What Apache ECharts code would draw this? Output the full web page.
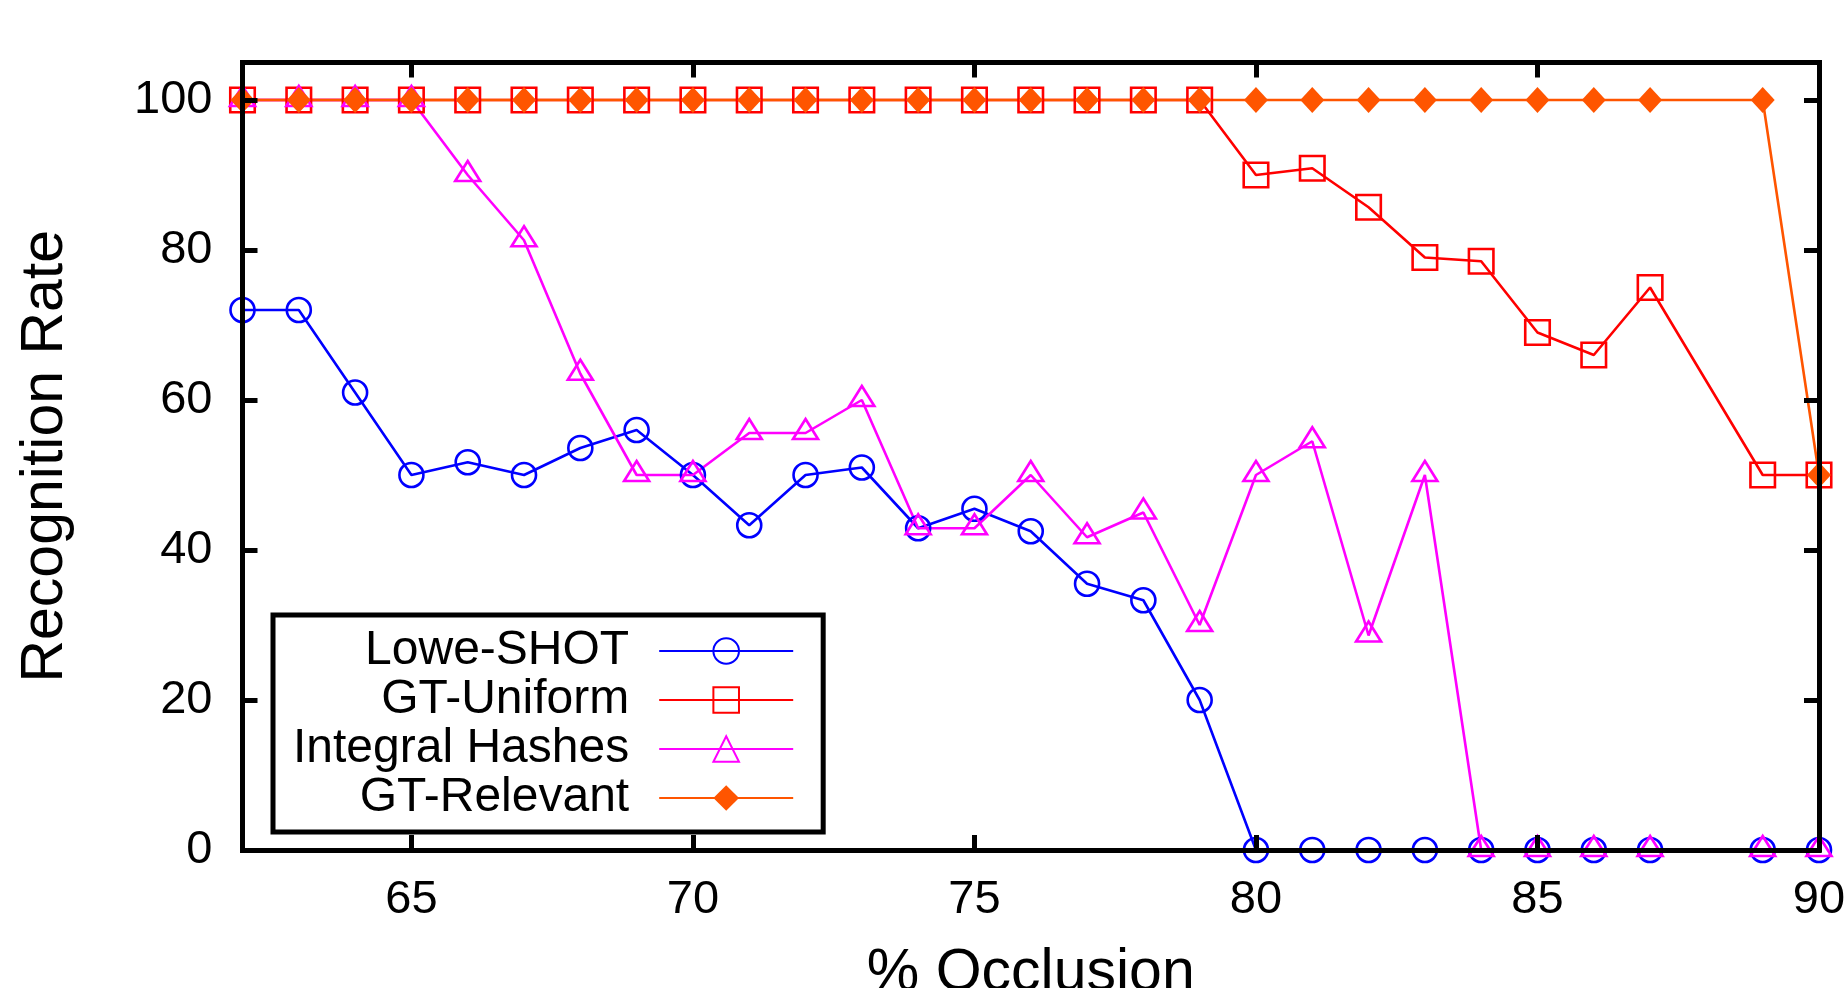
<!DOCTYPE html>
<html>
<head>
<meta charset="utf-8">
<title>Recognition Rate vs Occlusion</title>
<script src="https://cdn.jsdelivr.net/npm/echarts@6.0.0/dist/echarts.min.js"></script>
<style>
  html, body { margin: 0; padding: 0; background: #fff; }
  #chart { width: 1845px; height: 988px; }
</style>
</head>
<body>
<div id="chart"></div>
<script>
// % occlusion values that were measured (88 is missing in the source data)
const occlusion = [62, 63, 64, 65, 66, 67, 68, 69, 70, 71, 72, 73, 74, 75, 76, 77, 78, 79,
                   80, 81, 82, 83, 84, 85, 86, 87, 89, 90];

const loweShot = [72, 72, 61, 50, 51.7, 50, 53.6, 56, 50, 43.3, 50, 51, 42.9, 45.5, 42.5, 35.5, 33.3, 20,
                  0, 0, 0, 0, 0, 0, 0, 0, 0, 0];
const gtUniform = [100, 100, 100, 100, 100, 100, 100, 100, 100, 100, 100, 100, 100, 100, 100, 100, 100, 100,
                   90, 90.9, 85.7, 79, 78.5, 69, 66, 75, 50, 50];
const integralHashes = [100, 100, 100, 100, 90, 81.3, 63.5, 50, 50, 55.6, 55.6, 60, 42.9, 42.9, 50, 41.7, 45, 30,
                        50, 54.5, 28.6, 50, 0, 0, 0, 0, 0, 0];
const gtRelevant = [100, 100, 100, 100, 100, 100, 100, 100, 100, 100, 100, 100, 100, 100, 100, 100, 100, 100,
                    100, 100, 100, 100, 100, 100, 100, 100, 100, 50];

const xTicks = [65, 70, 75, 80, 85, 90];
const yTicks = [0, 20, 40, 60, 80, 100];

const FONT = "Liberation Sans";

const chart = echarts.init(document.getElementById("chart"));

const pairs = (values) => occlusion.map((x, i) => [x, values[i]]);

// shared look of the boxed axes
const axisBase = (ticks) => ({
    type: "value",
    z: 10,
    splitLine: { show: false },
    axisLine: { show: true, onZero: false, lineStyle: { color: "#000", width: 5, cap: "square" } },
    axisTick: { show: true, inside: true, length: 15, customValues: ticks, lineStyle: { color: "#000", width: 5 } },
});

const lineSeries = (name, values, color, symbol, size, filled, extra) => Object.assign({
    name: name,
    type: "line",
    data: pairs(values),
    symbol: symbol,
    symbolSize: size,
    clip: false,
    animation: false,
    lineStyle: { color: color, width: 2.6 },
    itemStyle: filled
        ? { color: color, borderWidth: 0 }
        : { color: "rgba(0,0,0,0)", borderColor: color, borderWidth: 2.6 },
    emphasis: { disabled: true },
}, extra || {});

const options = {
    animation: false,
    backgroundColor: "#fff",
    textStyle: { fontFamily: FONT },
    grid: { left: 242.5, right: 26, top: 62.5, bottom: 138, containLabel: false, outerBoundsMode: "none" },
    xAxis: [
        Object.assign(axisBase(xTicks), {
            position: "bottom",
            min: 62,
            max: 90,
            axisLabel: { customValues: xTicks, fontSize: 47, margin: 27, color: "#000", fontFamily: FONT },
            name: "% Occlusion",
            nameLocation: "middle",
            nameGap: 94,
            nameTextStyle: { fontSize: 59, color: "#000", fontFamily: FONT },
        }),
        Object.assign(axisBase(xTicks), {
            position: "top",
            min: 62,
            max: 90,
            axisLabel: { show: false },
        }),
    ],
    yAxis: [
        Object.assign(axisBase(yTicks), {
            position: "left",
            min: 0,
            max: 105,
            axisLabel: { customValues: yTicks, fontSize: 47, margin: 30, color: "#000", fontFamily: FONT },
            name: "Recognition Rate",
            nameLocation: "middle",
            nameGap: 167,
            nameTextStyle: { fontSize: 59, color: "#000", fontFamily: FONT },
        }),
        Object.assign(axisBase(yTicks), {
            position: "right",
            min: 0,
            max: 105,
            axisLabel: { show: false },
        }),
    ],
    legend: {
        data: ["Lowe-SHOT", "GT-Uniform", "Integral Hashes", "GT-Relevant"],
        orient: "vertical",
        align: "right",
        left: 273,
        top: 615,
        padding: [12, 29, 10, 20],
        itemGap: 1,
        itemWidth: 134,
        itemHeight: 32,
        backgroundColor: "#fff",
        borderColor: "#000",
        borderWidth: 5,
        borderRadius: 0,
        selectedMode: false,
        textStyle: { fontSize: 48, lineHeight: 48, color: "#000", fontFamily: FONT, padding: [0, 25, 0, 0] },
    },
    series: [
        lineSeries("Lowe-SHOT", loweShot, "#0000ff", "circle", 24, false),
        lineSeries("GT-Uniform", gtUniform, "#ff0000", "rect", 24.5, false),
        lineSeries("Integral Hashes", integralHashes, "#ff00ff", "triangle", [25, 20], false, { symbolOffset: [0, -4] }),
        lineSeries("GT-Relevant", gtRelevant, "#ff5500", "diamond", [24, 26], true),
    ],
};

chart.setOption(options);
</script>
</body>
</html>
